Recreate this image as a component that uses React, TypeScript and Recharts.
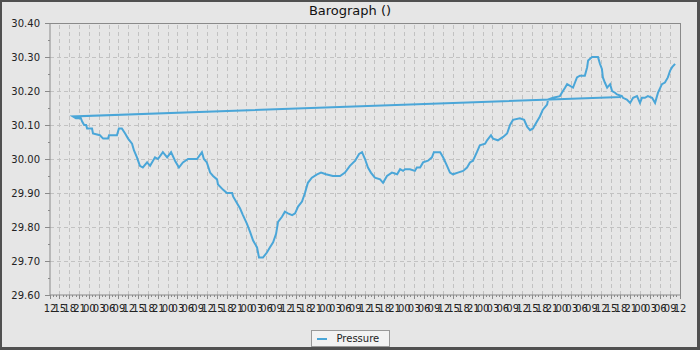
import React from "react";
import {
  Legend,
  Line,
  LineChart,
  ReferenceLine,
  XAxis,
  YAxis,
} from "recharts";

// hours since the axis start (12:00 on day one).
// the first reading is out of order in the feed, so the line runs back to the start.
const HOURS = [
  174.0, 7.0, 7.9, 9.4, 9.8, 10.4, 11.0, 11.3, 12.8, 13.1, 15.2, 16.2, 17.7,
  18.0, 20.4, 21.0, 21.9, 22.9, 23.8, 25.0, 25.6, 26.5, 27.4, 28.3, 29.6, 30.5,
  32.0, 32.9, 34.4, 35.7, 36.9, 38.1, 39.3, 40.5, 42.1, 44.8, 46.3, 46.9, 47.8,
  48.8, 49.7, 50.9, 51.2, 52.7, 53.9, 55.5, 55.8, 57.0, 57.9, 58.8, 60.0, 61.0,
  61.9, 63.1, 63.7, 64.9, 66.1, 67.0, 68.0, 68.9, 69.5, 70.7, 71.6, 72.5, 73.8,
  74.7, 75.6, 76.8, 77.7, 78.6, 79.8, 81.4, 82.6, 84.1, 86.2, 88.4, 89.9, 91.4,
  93.0, 94.2, 95.1, 96.0, 96.9, 97.8, 99.0, 100.6, 101.5, 102.7, 104.2, 105.8,
  106.7, 107.6, 108.2, 109.7, 111.2, 111.8, 112.8, 113.7, 115.2, 116.4, 117.0,
  118.9, 119.8, 121.0, 121.9, 122.8, 124.3, 125.9, 127.1, 128.0, 128.9, 130.1,
  131.0, 132.6, 133.2, 134.4, 135.0, 136.5, 138.1, 139.3, 140.2, 141.1, 143.2,
  144.5, 145.4, 146.3, 147.2, 148.4, 149.3, 150.2, 151.5, 151.8, 153.3, 155.4,
  156.0, 157.0, 157.6, 159.4, 160.0, 160.6, 161.5, 163.0, 163.7, 164.0, 165.2,
  167.0, 167.6, 168.2, 168.5, 169.1, 169.8, 170.7, 171.3, 172.2, 172.8, 174.3,
  174.6, 175.8, 176.8, 177.7, 178.9, 179.8, 180.4, 181.3, 182.2, 183.5, 184.4,
  185.3, 186.5, 187.4, 188.3, 189.0, 189.6, 190.5,
];

const PRESSURE = [
  30.182, 30.125, 30.12, 30.12, 30.11, 30.1, 30.1, 30.09, 30.09, 30.075, 30.07,
  30.06, 30.06, 30.07, 30.07, 30.09, 30.09, 30.075, 30.06, 30.045, 30.025,
  30.005, 29.98, 29.975, 29.99, 29.98, 30.005, 30.0, 30.02, 30.005, 30.02,
  29.995, 29.975, 29.99, 30.0, 30.0, 30.02, 30.0, 29.99, 29.96, 29.95, 29.94,
  29.925, 29.91, 29.9, 29.9, 29.89, 29.87, 29.855, 29.835, 29.81, 29.785, 29.76,
  29.74, 29.71, 29.71, 29.725, 29.74, 29.755, 29.78, 29.815, 29.83, 29.845,
  29.84, 29.835, 29.84, 29.86, 29.875, 29.9, 29.93, 29.945, 29.955, 29.96,
  29.955, 29.95, 29.95, 29.96, 29.98, 29.995, 30.015, 30.02, 30.0, 29.975,
  29.96, 29.945, 29.94, 29.93, 29.95, 29.96, 29.955, 29.97, 29.965, 29.97,
  29.97, 29.965, 29.975, 29.975, 29.99, 29.995, 30.005, 30.02, 30.02, 30.005,
  29.98, 29.96, 29.955, 29.96, 29.965, 29.975, 29.99, 29.995, 30.02, 30.04,
  30.045, 30.055, 30.07, 30.06, 30.055, 30.065, 30.075, 30.1, 30.115, 30.12,
  30.115, 30.095, 30.085, 30.09, 30.11, 30.125, 30.145, 30.16, 30.175, 30.18,
  30.185, 30.195, 30.21, 30.22, 30.21, 30.225, 30.24, 30.245, 30.245, 30.27,
  30.29, 30.3, 30.3, 30.28, 30.265, 30.24, 30.225, 30.21, 30.22, 30.2, 30.195,
  30.19, 30.185, 30.18, 30.175, 30.165, 30.18, 30.185, 30.165, 30.18, 30.18,
  30.185, 30.18, 30.165, 30.195, 30.22, 30.225, 30.24, 30.26, 30.27, 30.28,
];

const START_HOUR = 12;
const SPAN_HOURS = 192;
const X_TICKS = Array.from({ length: SPAN_HOURS + 1 }, (_, i) => i);
const Y_TICKS = [
  29.6, 29.65, 29.7, 29.75, 29.8, 29.85, 29.9, 29.95, 30.0, 30.05, 30.1, 30.15,
  30.2, 30.25, 30.3, 30.35, 30.4,
];

const data = HOURS.map((t, i) => ({ t, pressure: PRESSURE[i] }));

const isMajorY = (v: number) => Math.round(v * 100) % 10 === 0;
const gridHours = X_TICKS.filter((h) => h % 3 === 0 && h > 0 && h < SPAN_HOURS);
const gridValues = Y_TICKS.filter(
  (v) => isMajorY(v) && v > 29.6 && v < 30.4
);

const FONT = "'DejaVu Sans', sans-serif";
const LINE_COLOR = "#4aa6d8";
const AXIS_COLOR = "#8a8a8a";

function XTick(props: any) {
  const { x, y, payload } = props;
  const h = payload.value as number;
  const major = h % 3 === 0;
  const label = String((START_HOUR + h) % 24).padStart(2, "0");
  return (
    <g>
      <line
        x1={x}
        x2={x}
        y1={y}
        y2={y + (major ? 4 : 2)}
        stroke={AXIS_COLOR}
        shapeRendering="crispEdges"
      />
      {major && (
        <text
          x={x}
          y={y + 17}
          textAnchor="middle"
          fontSize={10}
          fontFamily={FONT}
          fill="#222"
        >
          {label}
        </text>
      )}
    </g>
  );
}

function YTick(props: any) {
  const { x, y, payload } = props;
  const v = payload.value as number;
  const major = isMajorY(v);
  return (
    <g>
      <line
        x1={x - (major ? 5 : 2)}
        x2={x}
        y1={y}
        y2={y}
        stroke={AXIS_COLOR}
        shapeRendering="crispEdges"
      />
      {major && (
        <text
          x={x - 10}
          y={y + 4}
          textAnchor="end"
          fontSize={10}
          fontFamily={FONT}
          fill="#222"
        >
          {v.toFixed(2)}
        </text>
      )}
    </g>
  );
}

function LegendBox() {
  return (
    <div style={{ display: "flex", justifyContent: "center", paddingTop: 5 }}>
      <div
        style={{
          boxSizing: "border-box",
          width: 79,
          height: 17,
          border: "1px solid #999",
          background: "#f2f2f2",
          display: "flex",
          alignItems: "center",
          fontFamily: FONT,
          fontSize: 10,
          color: "#222",
        }}
      >
        <span
          style={{
            display: "inline-block",
            width: 10,
            height: 2,
            background: LINE_COLOR,
            marginLeft: 5,
            marginRight: 10,
          }}
        />
        Pressure
      </div>
    </div>
  );
}

export default function App() {
  return (
    <div
      style={{
        position: "absolute",
        left: 0,
        top: 0,
        width: 700,
        height: 350,
        boxSizing: "border-box",
        borderTop: "2px solid #505050",
        borderLeft: "2px solid #505050",
        borderRight: "3px solid #505050",
        borderBottom: "3px solid #505050",
        background: "#e6e6e6",
      }}
    >
      <div style={{ position: "absolute", left: -2, top: -2 }}>
        <div
          style={{
            position: "absolute",
            left: 0,
            top: 3,
            width: 700,
            textAlign: "center",
            fontFamily: FONT,
            fontSize: 13,
            lineHeight: "16px",
            color: "#111",
          }}
        >
          Barograph ()
        </div>
        <LineChart
          width={700}
          height={350}
          data={data}
          margin={{ top: 23, right: 20, left: 0, bottom: 0 }}
        >
          {gridHours.map((h) => (
            <ReferenceLine
              key={`vx${h}`}
              x={h}
              stroke="#c2c2c2"
              strokeDasharray="4 3"
              shapeRendering="crispEdges"
            />
          ))}
          {gridValues.map((v) => (
            <ReferenceLine
              key={`hy${v}`}
              y={v}
              stroke="#c2c2c2"
              strokeDasharray="4 3"
              shapeRendering="crispEdges"
            />
          ))}
          <ReferenceLine y={30.4} stroke={AXIS_COLOR} shapeRendering="crispEdges" />
          <ReferenceLine x={SPAN_HOURS} stroke={AXIS_COLOR} shapeRendering="crispEdges" />
          <XAxis
            dataKey="t"
            type="number"
            domain={[0, SPAN_HOURS]}
            ticks={X_TICKS}
            interval={0}
            allowDataOverflow
            height={30}
            tickSize={0}
            tickMargin={0}
            tickLine={false}
            stroke={AXIS_COLOR}
            tick={(p: any) => <XTick {...p} />}
          />
          <YAxis
            type="number"
            domain={[29.6, 30.4]}
            ticks={Y_TICKS}
            interval={0}
            allowDataOverflow
            width={50}
            tickSize={0}
            tickMargin={0}
            tickLine={false}
            stroke={AXIS_COLOR}
            tick={(p: any) => <YTick {...p} />}
          />
          <Legend
            verticalAlign="bottom"
            height={25}
            wrapperStyle={{ left: 0, width: 700 }}
            content={() => <LegendBox />}
          />
          <Line
            type="linear"
            dataKey="pressure"
            stroke={LINE_COLOR}
            strokeWidth={2}
            dot={false}
            isAnimationActive={false}
          />
        </LineChart>
      </div>
    </div>
  );
}
